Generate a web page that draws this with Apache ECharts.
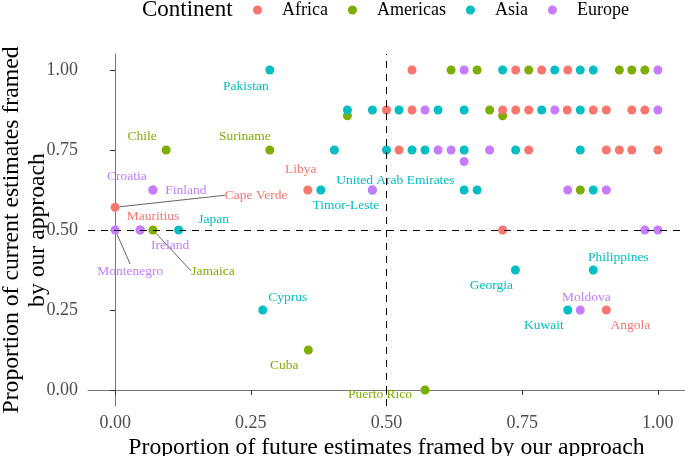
<!DOCTYPE html>
<html><head><meta charset="utf-8">
<script src="https://cdn.jsdelivr.net/npm/echarts@6/dist/echarts.min.js"></script>
<style>html,body{margin:0;padding:0;background:#fff}#c{width:685px;height:456px}</style>
</head><body><div id="c"></div>
<script>
// ---- data: [future proportion, current proportion, country label (optional)] ----
const continents = ['Africa', 'Americas', 'Asia', 'Europe'];
const africa = [
  [0.547,1],[0.738,1],[0.786,1],[0.834,1],
  [0.5,0.875],[0.547,0.875],[0.714,0.875],[0.738,0.875],[0.762,0.875],[0.833,0.875],[0.881,0.875],[0.905,0.875],[0.952,0.875],[0.976,0.875],
  [0.523,0.75],[0.762,0.75],[0.905,0.75],[0.929,0.75],[0.952,0.75],[1,0.75],
  [0.355,0.625,'Libya'],[0,0.571,'Cape Verde'],[0.046,0.5,'Mauritius'],[0.714,0.5],[0.905,0.25,'Angola']
];
const americas = [
  [0.619,1],[0.667,1],[0.762,1],[0.929,1],[0.952,1],[0.976,1],
  [0.69,0.875],[0.714,0.857],[0.428,0.857],
  [0.094,0.75,'Chile'],[0.285,0.75,'Suriname'],
  [0.857,0.625],[0.0696,0.5,'Jamaica'],[0.356,0.125,'Cuba'],[0.571,0,'Puerto Rico']
];
const asia = [
  [0.285,1,'Pakistan'],[0.714,1],[0.81,1],[0.857,1],[0.881,1],
  [0.428,0.875],[0.474,0.875],[0.523,0.875],[0.595,0.875],[0.643,0.875],[0.786,0.875],[0.857,0.875],
  [0.404,0.75],[0.5,0.75],[0.547,0.75],[0.571,0.75],[0.643,0.75],[0.738,0.75],[0.857,0.75],
  [0.379,0.625,'Timor-Leste'],[0.474,0.625,'United Arab Emirates'],[0.643,0.625],[0.667,0.625],[0.881,0.625],
  [0.117,0.5,'Japan'],[0.7375,0.375,'Georgia'],[0.881,0.375,'Philippines'],
  [0.272,0.25,'Cyprus'],[0.834,0.25,'Kuwait']
];
const europe = [
  [0.643,1],[1,1],
  [0.571,0.875],[0.81,0.875],[1,0.875],
  [0.595,0.75],[0.619,0.75],[0.69,0.75],[0.643,0.714],
  [0.0696,0.625,'Croatia'],[0.0696,0.625,'Finland'],[0.474,0.625],[0.834,0.625],[0.905,0.625],
  [0,0.5,'Montenegro'],[0.046,0.5,'Ireland'],[0.976,0.5],[1,0.5],
  [0.857,0.25,'Moldova']
];
const xTicks = [0, 0.25, 0.5, 0.75, 1];
const yTicks = [0, 0.25, 0.5, 0.75, 1];
const refX = 0.5, refY = 0.5;

// ---- styling / layout ----
const colors = {Africa:'#F8766D', Americas:'#7CAE00', Asia:'#00BFC4', Europe:'#C77CFF'};
const FONT = 'Liberation Serif';
const labelOffsets = {
  'Pakistan':[-24,16], 'Chile':[-24,-14], 'Suriname':[-25,-14], 'Croatia':[-26,-14],
  'Finland':[33,0], 'Cape Verde':[141,-12], 'Mauritius':[13,-14], 'Libya':[-7,-21],
  'Timor-Leste':[25,15], 'United Arab Emirates':[23,-10], 'Japan':[35,-11], 'Ireland':[30,15],
  'Montenegro':[15,41], 'Jamaica':[60,41], 'Cyprus':[25,-13], 'Cuba':[-24,15],
  'Puerto Rico':[-45,4], 'Georgia':[-24,15], 'Philippines':[25,-13], 'Moldova':[6,-13],
  'Kuwait':[-24,15], 'Angola':[24,15]
};
const leaderLines = ['Cape Verde', 'Montenegro', 'Jamaica'];

function toData(pts) {
  return pts.map(p => {
    const item = {value: [p[0], p[1]]};
    if (p[2]) {
      item.name = p[2];
      item.label = {show: true};
      if (leaderLines.includes(p[2])) item.labelLine = {show: true};
    }
    return item;
  });
}
function makeSeries(name, pts) {
  return {
    name, type: 'scatter', data: toData(pts), symbolSize: 9,
    itemStyle: {color: colors[name], opacity: 1},
    label: {show: false, position: 'inside', formatter: '{b}', color: colors[name],
            fontFamily: FONT, fontSize: 13.5},
    labelLine: {show: false, lineStyle: {color: '#666', width: 1}},
    labelLayout: function (p) {
      const o = labelOffsets[p.text];
      return o ? {dx: o[0], dy: o[1]} : {};
    },
    emphasis: {disabled: true}, silent: true, z: 3
  };
}
const data = {Africa: africa, Americas: americas, Asia: asia, Europe: europe};
const drawOrder = ['Americas', 'Africa', 'Asia', 'Europe'];

const series = [{
  type: 'scatter', data: [], silent: true, z: 1,
  markLine: {
    silent: true, symbol: 'none', animation: false,
    label: {show: false},
    lineStyle: {color: '#000', width: 1, type: [7, 6]},
    data: [{xAxis: refX}, {yAxis: refY}]
  }
}].concat(drawOrder.map(n => makeSeries(n, data[n])));

const chart = echarts.init(document.getElementById('c'), null, {renderer: 'canvas'});
chart.setOption({
  animation: false,
  backgroundColor: '#fff',
  title: {text: 'Continent', left: 137, top: -7,
          textStyle: {fontFamily: FONT, fontSize: 23, fontWeight: 'normal', color: '#000'}},
  legend: {
    data: continents.map(n => ({name: n, icon: 'circle'})),
    left: 248, top: -4, itemWidth: 9, itemHeight: 9, itemGap: 20,
    textStyle: {fontFamily: FONT, fontSize: 18, color: '#000', padding: [0, 0, 0, 15]}
  },
  grid: {left: 88, right: 0, top: 54, bottom: 50, containLabel: false, outerBoundsMode: 'none'},
  xAxis: {
    type: 'value', min: -0.05, max: 1.05,
    name: 'Proportion of future estimates framed by our approach',
    nameLocation: 'middle', nameGap: 30, nameMoveOverlap: false,
    nameTextStyle: {fontFamily: FONT, fontSize: 23.7, color: '#000'},
    splitLine: {show: false},
    axisLine: {show: true, lineStyle: {color: '#777', width: 1}},
    axisTick: {show: true, length: 5, customValues: xTicks, lineStyle: {color: '#333'}},
    axisLabel: {customValues: xTicks, formatter: v => v.toFixed(2), margin: 8,
                fontFamily: FONT, fontSize: 18, color: '#4d4d4d'}
  },
  yAxis: {
    type: 'value', min: -0.05, max: 1.05,
    name: 'Proportion of current estimates framed\nby our approach',
    nameLocation: 'middle', nameGap: 37, nameMoveOverlap: false,
    nameTextStyle: {fontFamily: FONT, fontSize: 23.7, color: '#000', lineHeight: 26, align: 'center'},
    splitLine: {show: false},
    axisLine: {show: true, lineStyle: {color: '#777', width: 1}},
    axisTick: {show: true, length: 5, customValues: yTicks, lineStyle: {color: '#333'}},
    axisLabel: {customValues: yTicks, formatter: v => v.toFixed(2), margin: 10,
                fontFamily: FONT, fontSize: 18, color: '#4d4d4d'}
  },
  series
});
</script></body></html>
